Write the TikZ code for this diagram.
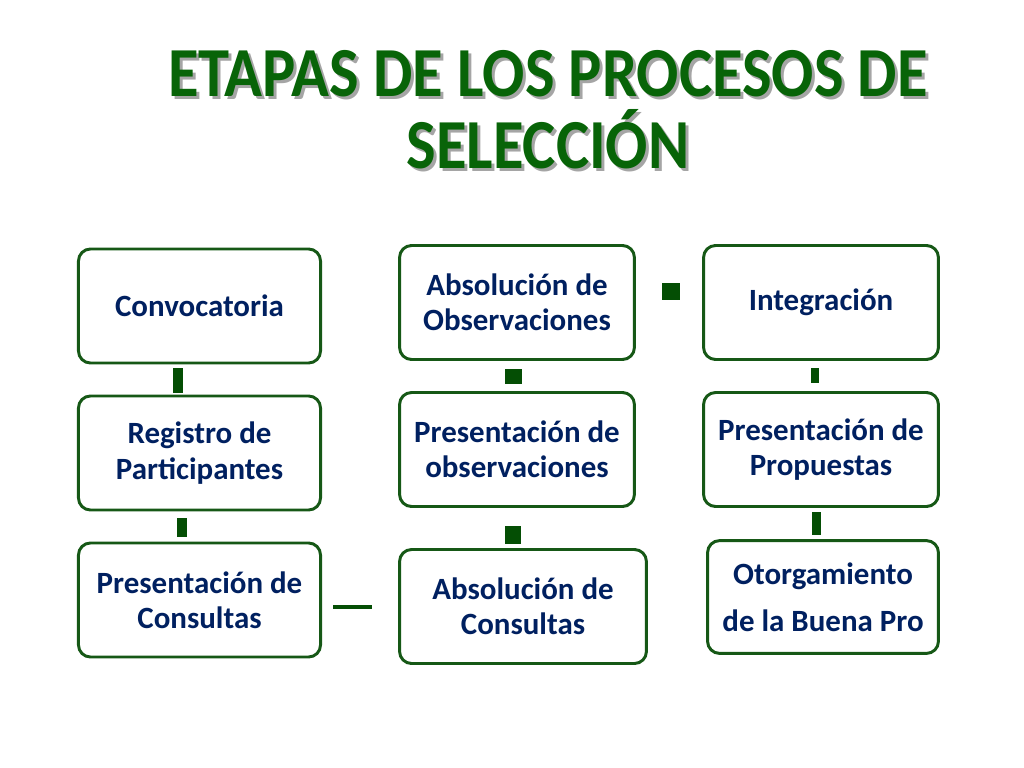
\documentclass[tikz,border=0pt]{standalone}
\usepackage{fontspec}
\setmainfont{Carlito}
\definecolor{titlegreen}{RGB}{8,100,8}
\definecolor{shadowgray}{RGB}{165,165,165}
\definecolor{boxgreen}{RGB}{22,88,22}
\definecolor{linkgreen}{RGB}{4,78,4}
\definecolor{textnavy}{RGB}{0,32,96}

\begin{document}
\begin{tikzpicture}[x=0.025cm, y=-0.025cm,
  stage/.style={draw=boxgreen, line width=2.1pt, rounded corners=0.3cm,
    fill=white, text=textnavy, align=center, inner sep=0pt,
    font=\bfseries\fontsize{22}{25}\selectfont},
  link/.style={fill=linkgreen},
  heading/.style={align=center, xscale=0.89, transform shape,
    font=\bfseries\fontsize{50}{51}\selectfont}]

\useasboundingbox (0,0) rectangle (1024,768);

% Title with its shadow
\node[heading, text=shadowgray] (titleshadow) at (551,113) {ETAPAS DE LOS PROCESOS DE\\SELECCIÓN};
\node[heading, text=titlegreen] (title) at (548,110) {ETAPAS DE LOS PROCESOS DE\\SELECCIÓN};

% First column
\node[stage, minimum width=6.05cm, minimum height=2.85cm] (conv) at (199.5,306) {Convocatoria};
\node[stage, minimum width=6.05cm, minimum height=2.85cm] (regis) at (199.5,453) {Registro de\\Participantes};
\node[stage, minimum width=6.05cm, minimum height=2.85cm] (consul) at (199.5,600) {Presentación de\\Consultas};

% Second column
\node[stage, minimum width=5.87cm, minimum height=2.85cm] (absobs) at (517,302.5) {Absolución de\\Observaciones};
\node[stage, minimum width=5.87cm, minimum height=2.85cm] (presobs) at (517,449.5) {Presentación de\\observaciones};
\node[stage, minimum width=6.17cm, minimum height=2.85cm] (abscon) at (523,606.5) {Absolución de\\Consultas};

% Third column
\node[stage, minimum width=5.87cm, minimum height=2.85cm] (integ) at (821,302.5) {Integración};
\node[stage, minimum width=5.87cm, minimum height=2.85cm] (propu) at (821,449.5) {Presentación de\\Propuestas};
\node[stage, minimum width=5.77cm, minimum height=2.82cm] (buena) at (823,597) {Otorgamiento\\[0.29cm]de la Buena Pro};

% Short link marks between the stages
\fill[link] (173,368) rectangle (183,393);
\fill[link] (177,518) rectangle (187,537);
\fill[link] (333,605) rectangle (372,609);
\fill[link] (505,369) rectangle (522,384);
\fill[link] (505,526) rectangle (521,544);
\fill[link] (662,283) rectangle (680,300);
\fill[link] (811,368) rectangle (819,383);
\fill[link] (812,512) rectangle (821,535);

\end{tikzpicture}
\end{document}
